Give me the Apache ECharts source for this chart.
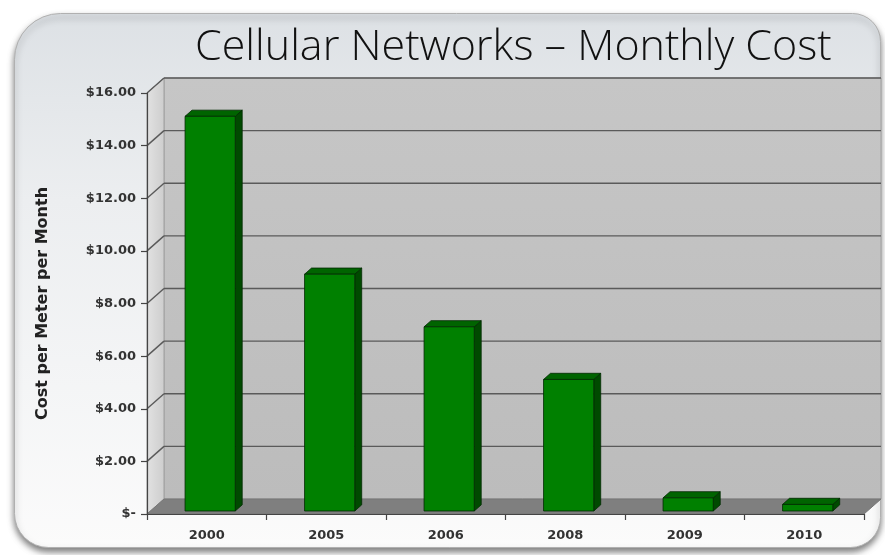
<!DOCTYPE html>
<html>
<head>
<meta charset="utf-8">
<script src="https://cdn.jsdelivr.net/npm/echarts@6/dist/echarts.min.js"></script>
<style>html,body{margin:0;padding:0;background:#fff}#c{width:885px;height:555px}</style>
</head>
<body>
<div id="c"></div>
<script>
const categories = ['2000', '2005', '2006', '2008', '2009', '2010'];
const costs = [15, 9, 7, 5, 0.5, 0.25];
const yTicks = [0, 2, 4, 6, 8, 10, 12, 14, 16];
const titleText = 'Cellular Networks \u2013 Monthly Cost';
const yAxisTitle = 'Cost per Meter per Month';

const DX = 17, DY = 15;      // 3D depth offset
const F0 = 0.2, F1 = 0.61;   // bar depth fractions

const chart = echarts.init(document.getElementById('c'), null, {renderer: 'canvas'});

function wallsRender(params, api) {
  const cs = params.coordSys;
  const L = cs.x, R = cs.x + cs.width, T = cs.y, B = cs.y + cs.height;
  const children = [];
  children.push({type: 'rect', shape: {x: L + DX, y: T - DY, width: cs.width, height: cs.height},
    style: {fill: {type: 'linear', x: 0, y: 0, x2: 0, y2: 1, colorStops: [{offset: 0, color: '#c6c6c6'}, {offset: 1, color: '#bcbcbc'}]}, stroke: '#a0a0a0', lineWidth: 1}});
  children.push({type: 'polygon', shape: {points: [[L, T], [L + DX, T - DY], [L + DX, B - DY], [L, B]]},
    style: {fill: {type: 'linear', x: 0, y: 0, x2: 1, y2: 0, colorStops: [{offset: 0, color: '#e2e2e2'}, {offset: 1, color: '#cdcdcd'}]}, stroke: '#a0a0a0', lineWidth: 1}});
  children.push({type: 'polygon', shape: {points: [[L, B], [L + DX, B - DY], [R + DX, B - DY], [R, B]]},
    style: {fill: '#7f7f7f', stroke: '#777', lineWidth: 1}});
  yTicks.forEach(function (t) {
    if (t === 0) return;
    const y = api.coord([0, t])[1];
    children.push({type: 'line', shape: {x1: L + DX, y1: y - DY, x2: R + DX, y2: y - DY}, style: {stroke: '#5a5a5a', lineWidth: 1.4}});
    children.push({type: 'line', shape: {x1: L, y1: y, x2: L + DX, y2: y - DY}, style: {stroke: '#5a5a5a', lineWidth: 1.4}});
  });
  return {type: 'group', children: children};
}

function barRender(params, api) {
  const i = api.value(0), v = api.value(1);
  const base = api.coord([i, 0]);
  const top = api.coord([i, v]);
  const band = api.size([1, 0])[0];
  const w = band * 0.42;
  const x0 = base[0] - w / 2 + DX * F0;
  const yb = base[1] - DY * F0;
  const yt = top[1] - DY * F0;
  const ddx = DX * (F1 - F0), ddy = DY * (F1 - F0);
  const stroke = '#002a00';
  return {type: 'group', children: [
    {type: 'polygon', shape: {points: [[x0 + w, yt], [x0 + w + ddx, yt - ddy], [x0 + w + ddx, yb - ddy], [x0 + w, yb]]},
      style: {fill: '#004a00', stroke: stroke, lineWidth: 0.8}},
    {type: 'polygon', shape: {points: [[x0, yt], [x0 + ddx, yt - ddy], [x0 + w + ddx, yt - ddy], [x0 + w, yt]]},
      style: {fill: '#006400', stroke: stroke, lineWidth: 0.8}},
    {type: 'rect', shape: {x: x0, y: yt, width: w, height: yb - yt},
      style: {fill: '#008000', stroke: stroke, lineWidth: 0.8}}
  ]};
}

const option = {
  animation: false,
  backgroundColor: '#ffffff',
  graphic: [{
    type: 'rect', z: -10, left: 14, top: 13,
    shape: {width: 866, height: 534, r: [46, 28, 30, 34]},
    style: {
      fill: {type: 'linear', x: 0, y: 0, x2: 0, y2: 1, colorStops: [{offset: 0, color: '#dde1e5'}, {offset: 0.35, color: '#eceef0'}, {offset: 1, color: '#fbfbfb'}]},
      stroke: '#b0b0b0', lineWidth: 1,
      shadowBlur: 6, shadowColor: 'rgba(0,0,0,0.5)', shadowOffsetX: 0, shadowOffsetY: 4
    }
  }],
  title: {
    text: titleText, left: 190, top: 21,
    textStyle: {fontFamily: 'Open Sans', fontWeight: 300, fontSize: 43, color: '#111'}
  },
  grid: {left: 147, right: 21, top: 93, bottom: 41, containLabel: false},
  xAxis: {
    type: 'category', data: categories, boundaryGap: true,
    axisLine: {show: true, lineStyle: {color: '#444', width: 1.2}},
    axisTick: {show: true, length: 6, lineStyle: {color: '#444', width: 1.2}},
    axisLabel: {margin: 15, fontFamily: 'DejaVu Sans', fontWeight: 'bold', fontSize: 13, color: '#333'},
    splitLine: {show: false}
  },
  yAxis: {
    type: 'value', min: 0, max: 16, interval: 2,
    name: yAxisTitle, nameLocation: 'middle', nameGap: 96, nameRotate: 90,
    nameTextStyle: {fontFamily: 'DejaVu Sans', fontWeight: 'bold', fontSize: 16, color: '#222'},
    axisLine: {show: true, lineStyle: {color: '#444', width: 1.2}},
    axisTick: {show: true, length: 6, lineStyle: {color: '#444', width: 1.2}},
    axisLabel: {margin: 11, fontFamily: 'DejaVu Sans', fontWeight: 'bold', fontSize: 13, color: '#333',
      formatter: function (v) { return v === 0 ? '$-' : '$' + v.toFixed(2); }},
    splitLine: {show: false}
  },
  series: [
    {type: 'custom', name: 'walls', silent: true, z: 0, data: [[0, 0]], renderItem: wallsRender},
    {type: 'custom', name: 'Cost', z: 3, data: costs.map(function (v, i) { return [i, v]; }), renderItem: barRender,
      encode: {x: 0, y: 1}}
  ]
};
chart.setOption(option);
</script>
</body>
</html>
